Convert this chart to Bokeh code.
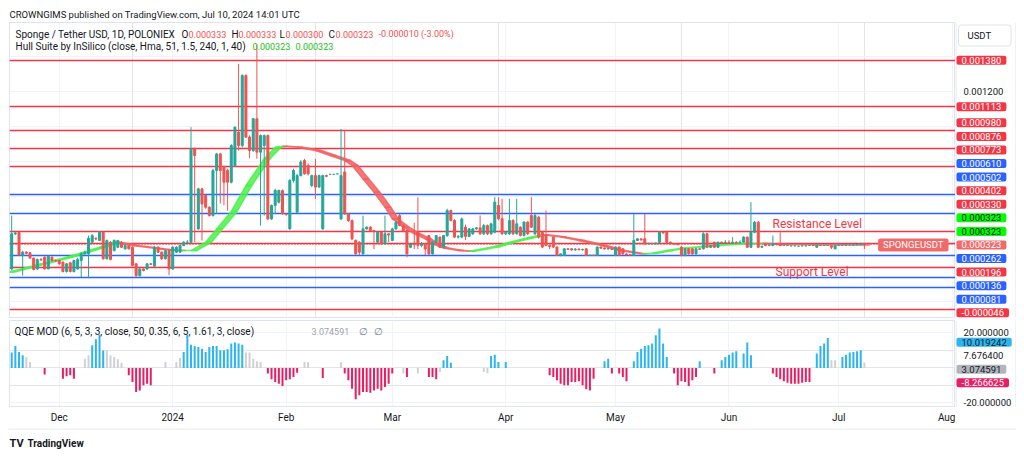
import numpy as np
from bokeh.plotting import figure
from bokeh.models import Range1d, FixedTicker, Label, Grid
from bokeh.layouts import column, row
from bokeh.embed import file_html
from bokeh.resources import INLINE

FONT = "Roboto"
TXT = "#131722"
UP, DOWN = "#26a69a", "#ef5350"
RED, BLUE = "#f23645", "#2962ff"
S = 1e-6

# ---------------- data (prices in micro-USDT) ----------------
start_day = 17   # day index counted from 1 Nov 2023
open_u = [
    186, 387, 396, 263, 282, 278, 248, 186, 240, 253,
    186, 253, 234, 234, 225, 171, 221, 171, 186, 234,
    272, 272, 339, 362, 349, 396, 244, 339, 291, 310,
    339, 301, 320, 310, 215, 148, 186, 186, 215, 202,
    310, 282, 244, 291, 186, 282, 282, 320, 339, 339,
    873, 415, 644, 606, 539, 491, 749, 844, 768, 749,
    682, 778, 968, 892, 1292, 940, 863, 1045, 854, 892,
    949, 472, 549, 568, 635, 501, 415, 692, 511, 720,
    806, 778, 663, 720, 654, 415, 720, 727, 727, 730,
    472, 740, 501, 463, 349, 339, 272, 415, 425, 406,
    339, 396, 330, 387, 349, 415, 491, 434, 406, 310,
    330, 400, 320, 330, 377, 272, 339, 368, 310, 377,
    520, 463, 368, 368, 425, 372, 387, 415, 421, 387,
    434, 387, 396, 549, 473, 387, 387, 463, 387, 425,
    377, 454, 492, 387, 482, 396, 377, 320, 368, 311,
    263, 263, 301, 301, 295, 300, 296, 301, 263, 265,
    263, 311, 305, 300, 302, 263, 311, 301, 272, 268,
    263, 349, 358, 358, 330, 332, 330, 339, 396, 396,
    339, 330, 328, 311, 263, 301, 301, 272, 301, 301,
    387, 310, 339, 310, 339, 335, 338, 333, 339, 335,
    339, 368, 310, 396, 453, 310, 330, 320, 320, 330,
    330, 320, 320, 318, 318, 316, 318, 318, 320,
    320, 310, 320, 320, 320, 320, 301, 320, 322, 322,
    322, 322, 324, 324, 333]
high_u = [
    491, 398, 400, 290, 288, 282, 250, 245, 248, 258,
    262, 258, 240, 238, 228, 220, 225, 238, 250, 282,
    290, 377, 385, 366, 402, 400, 355, 345, 355, 352,
    345, 325, 325, 315, 220, 190, 190, 220, 220, 318,
    315, 286, 296, 296, 318, 316, 325, 345, 350, 997,
    880, 650, 650, 612, 545, 760, 850, 850, 775, 760,
    900, 1000, 1359, 1300, 1300, 950, 1050, 1470, 955, 955,
    955, 555, 644, 640, 640, 505, 700, 760, 730, 810,
    816, 790, 725, 816, 725, 725, 725, 727, 727, 730,
    987, 978, 505, 470, 355, 345, 491, 430, 430, 410,
    400, 400, 491, 390, 420, 460, 500, 440, 410, 335,
    450, 596, 340, 335, 380, 345, 380, 372, 380, 530,
    525, 470, 380, 480, 440, 420, 420, 425, 492, 444,
    440, 450, 597, 597, 587, 400, 587, 470, 587, 430,
    460, 458, 597, 500, 490, 400, 520, 325, 372, 315,
    275, 305, 303, 305, 305, 303, 302, 305, 268, 268,
    315, 315, 310, 306, 306, 315, 315, 305, 275, 270,
    501, 362, 360, 501, 336, 335, 338, 400, 400, 400,
    342, 333, 331, 315, 305, 305, 305, 305, 303, 396,
    390, 325, 342, 342, 342, 352, 350, 368, 345, 350,
    372, 372, 568, 460, 460, 320, 335, 326, 377, 333,
    396, 320, 320, 318, 318, 316, 318, 318, 320,
    320, 322, 320, 320, 322, 322, 325, 322, 322, 324,
    322, 325, 326, 333, 333]
low_u = [
    177, 380, 262, 148, 270, 245, 178, 180, 232, 182,
    184, 228, 226, 210, 166, 165, 166, 166, 182, 139,
    268, 133, 335, 350, 345, 240, 240, 236, 286, 305,
    305, 296, 298, 200, 140, 142, 172, 182, 208, 198,
    278, 238, 240, 150, 180, 278, 278, 316, 332, 335,
    340, 410, 348, 530, 486, 486, 500, 560, 550, 520,
    675, 770, 863, 880, 935, 820, 855, 816, 434, 491,
    465, 466, 501, 560, 496, 490, 410, 680, 505, 715,
    725, 720, 655, 587, 650, 410, 710, 727, 727, 730,
    465, 495, 455, 350, 268, 265, 268, 410, 400, 300,
    334, 325, 325, 340, 345, 410, 430, 400, 253, 305,
    300, 300, 310, 265, 265, 268, 330, 305, 305, 370,
    458, 362, 360, 362, 352, 368, 380, 410, 380, 380,
    380, 380, 390, 465, 380, 380, 380, 380, 382, 372,
    372, 380, 420, 380, 360, 305, 315, 300, 306, 260,
    258, 260, 295, 290, 290, 292, 290, 260, 260, 260,
    260, 300, 298, 296, 294, 260, 260, 268, 262, 262,
    260, 345, 348, 325, 326, 326, 326, 335, 388, 335,
    325, 322, 320, 258, 258, 268, 268, 268, 295, 298,
    305, 305, 305, 306, 330, 330, 330, 330, 330, 330,
    335, 305, 305, 390, 305, 305, 315, 316, 316, 320,
    316, 320, 320, 318, 318, 316, 318, 318, 320,
    320, 308, 320, 320, 318, 300, 298, 318, 322, 320,
    322, 320, 322, 322, 300]
close_u = [
    387, 392, 266, 282, 275, 248, 183, 240, 238, 186,
    259, 234, 232, 215, 171, 215, 171, 234, 240, 272,
    282, 362, 377, 358, 396, 244, 349, 240, 349, 349,
    310, 320, 301, 205, 148, 186, 177, 215, 213, 310,
    282, 244, 291, 186, 310, 310, 320, 339, 339, 873,
    835, 644, 558, 539, 491, 749, 844, 749, 682, 682,
    892, 997, 892, 1292, 940, 863, 1045, 854, 949, 949,
    472, 549, 635, 635, 501, 497, 692, 749, 720, 797,
    730, 730, 720, 654, 720, 720, 716, 727, 727, 730,
    720, 501, 463, 358, 272, 282, 415, 425, 406, 400,
    396, 330, 387, 380, 415, 453, 434, 406, 272, 330,
    325, 320, 330, 300, 272, 339, 377, 310, 377, 520,
    463, 368, 372, 472, 372, 415, 415, 421, 387, 434,
    387, 444, 568, 473, 387, 396, 463, 387, 444, 377,
    454, 387, 425, 492, 368, 311, 320, 315, 311, 263,
    272, 301, 298, 295, 300, 296, 298, 263, 265, 263,
    311, 305, 300, 302, 298, 311, 263, 272, 268, 265,
    349, 358, 352, 330, 332, 330, 334, 396, 392, 339,
    330, 328, 326, 263, 301, 272, 272, 301, 298, 387,
    310, 320, 310, 339, 335, 338, 333, 339, 335, 338,
    368, 310, 396, 453, 310, 315, 320, 322, 330, 326,
    320, 320, 320, 318, 318, 316, 318, 318, 320,
    320, 320, 320, 320, 320, 310, 320, 322, 322, 322,
    322, 324, 324, 333, 323]

# Hull Suite line (read at key days)
hull_day = [16, 23, 32, 41, 45, 50, 57, 60, 63, 66, 70, 73, 77, 81, 86, 89, 91, 95, 100, 104,
            108, 110, 113, 116, 119, 121, 124, 127, 130, 132, 135, 139, 142, 149, 153, 158, 162,
            167, 172, 178, 183, 189, 192, 196, 200, 209, 216, 222, 227, 236, 250]
hull_u = [167, 205, 253, 310, 339, 320, 301, 295, 291, 291, 339, 415, 515, 663, 816, 882, 888,
          882, 863, 835, 806, 778, 701, 625, 539, 473, 425, 387, 358, 329, 305, 291, 287, 314,
          339, 364, 381, 368, 349, 320, 291, 272, 276, 291, 305, 320, 330, 331, 326, 324, 323]

# horizontal levels
level_u = [1380, 1113, 980, 876, 773, 610, 502, 402, 330, 262, 196, 136, 81, -46]
level_kind = ["r", "r", "r", "r", "r", "b", "b", "r", "r", "b", "r", "b", "b", "r"]

# QQE MOD histogram
qqe_day = [17, 18, 19, 20, 21, 22, 26, 31, 32, 33, 34, 37, 38, 39, 40, 41, 42, 43, 44, 45, 46, 47,
           49, 50, 51, 52, 53, 54, 55, 59, 62, 63, 64, 65, 66, 67, 68, 69, 70, 71, 72, 73, 74, 75,
           76, 77, 78, 79, 80, 81, 82, 83, 84, 85, 87, 88, 89, 90, 91, 92, 93, 94, 95, 97, 98, 102,
           107, 108, 109, 110, 111, 112, 113, 114, 115, 116, 117, 118, 119, 120, 121, 124, 125, 128,
           131, 132, 133, 134, 135, 136, 137, 146, 147, 148, 149, 150, 152, 164, 165, 166, 167, 168,
           169, 170, 171, 172, 173, 174, 175, 176, 179, 180, 181, 183, 184, 185, 187, 188, 189, 190,
           191, 192, 193, 194, 195, 196, 198, 199, 200, 201, 202, 203, 204, 205, 209, 211, 212, 213,
           214, 215, 217, 218, 219, 225, 226, 227, 228, 229, 230, 231, 232, 233, 234, 235, 237, 238,
           239, 240, 241, 242, 244, 245, 246, 247, 248, 249, 250]
qqe_val = [8.8, 12.6, 9.1, 7.2, 6.3, 3.4, -3.8, -6.1, -4.8, -4.2, -6.1, 5.3, 7.2, 13, 16.4, 19, 10,
           10, 7.2, 6.3, 5, 3, -4.2, -8, -13.7, -12.8, -9.9, -9, -9.9, 3.4, 3.4, 5.7, 9.1, 19, 13.3,
           12.6, 12, 11, 9.1, 12, 12.6, 12.6, 10.1, 10.1, 10.7, 13.9, 14.5, 13.9, 13.3, 8.8, 8.8,
           5.3, 3.8, 3.4, -3.2, -6.5, -8, -9, -10.3, -7, -6.5, -5.1, -2.7, 3.4, 3.4, -5.7, 3.4,
           -3.2, -7, -11.8, -17.9, -15.6, -13.7, -13.7, -14.1, -12.8, -11.8, -12.8, -10.9, -9,
           -3.2, -3.2, -5.1, -3.2, -5.1, -5.1, -6.5, -2.3, 4.4, 6.9, 3, -2.3, -3, 6.9, 7.6, 3.4,
           3.4, -4.2, -5.1, -7, -9, -9.9, -9.9, -8, -8, -7.6, -9.9, -12.2, -12.8, -6.1, 3.8, 5.3,
           -3.2, -3.2, -5.1, -7.6, 3.8, 9.1, 11, 12.6, 13, 13.9, 18.7, 22.5, 13.9, 6.3, -3.2, -9.9,
           -7.6, -8, -10.3, -7, -5.1, 3.8, -3.2, 4.4, 6.3, 7.6, 8.8, 9.5, 8.2, 14.5, 7.2, -3.2,
           -5.1, -6.5, -7.6, -8.4, -9, -9, -9, -8.4, -8, -8, 8.2, 12.6, 13.9, 17.1, 4.4, 4.4, 6.3,
           7.6, 8.8, 9.1, 9.5, 10.1, 3.07]
qqe_kind = (["b"] * 4 + ["g"] * 2 + ["p"] * 5 + ["g"] * 2 + ["b"] * 4 + ["g"] * 5 + ["p"] * 7 +
            ["g"] * 3 + ["b"] * 17 + ["g"] * 5 + ["p"] * 9 + ["g"] * 2 + ["p"] + ["g"] + ["p"] * 14 +
            ["g", "p", "g"] + ["p"] * 3 + ["g"] + ["b"] * 3 + ["g"] * 2 + ["b"] * 4 + ["p"] * 13 +
            ["b"] * 2 + ["p"] * 4 + ["b"] * 10 + ["p"] * 7 + ["b"] + ["p"] + ["b"] * 8 + ["p"] * 11 +
            ["b"] * 4 + ["g"] * 2 + ["b"] * 6 + ["g"])

month_days = [30, 61, 92, 121, 152, 182, 213, 243, 274]
month_labels = ["Dec", "2024", "Feb", "Mar", "Apr", "May", "Jun", "Jul", "Aug"]

# right-axis tags (values, kind)
price_ticks = [0.0012]
tag_u = [1380, 1113, 980, 876, 773, 610, 502, 402, 330, 323, 323, 323, 262, 196, 136, 81, -46]
tag_kind = ["r", "r", "r", "r", "r", "b", "b", "r", "r", "g", "g", "s", "b", "r", "b", "b", "r"]
qqe_ticks = [20, -20]
qqe_tag_vals = [10.019242, 7.676400, 3.074591, -8.266625]
qqe_tag_kind = ["q", "plain", "grey", "pink"]

# ---------------- geometry (page pixels) ----------------
X0, X1 = 16.4, 274.9
Y0, Y1 = -97.5e-6, 1595.6e-6
Q0, Q1 = -22.0, 27.1
FL, FR = 9, 955
MT, MB = 22, 318
QT, QB = 320, 406
AXW = 1016 - FR


def mx(px):
    return X0 + (px - FL) * (X1 - X0) / (FR - FL)


def my(py):
    return Y1 - (py - MT) * (Y1 - Y0) / (MB - MT)


def qy(py):
    return Q1 - (py - QT) * (Q1 - Q0) / (QB - QT)


def main_px(v):
    return MT + (Y1 - v) * (MB - MT) / (Y1 - Y0)


def qqe_px(v):
    return QT + (Q1 - v) * (QB - QT) / (Q1 - Q0)


def stack_tags(ideal, step, lo, hi):
    groups = [[i] for i in range(len(ideal))]

    def start(g):
        s = sum(ideal[i] - k * step for k, i in enumerate(g)) / len(g)
        return min(max(s, lo), hi - (len(g) - 1) * step)
    merged = True
    while merged:
        merged = False
        for j in range(len(groups) - 1):
            a, b = groups[j], groups[j + 1]
            if start(b) - (start(a) + (len(a) - 1) * step) < step - 1e-6:
                groups[j] = a + b
                del groups[j + 1]
                merged = True
                break
    pos = [0.0] * len(ideal)
    for g in groups:
        s = start(g)
        for k, i in enumerate(g):
            pos[i] = s + k * step
    return pos


PAD = dict(left=5, right=5, top=1, bottom=1)
TAGF = "9.5px"
LEGF = "10px"
VALF = "9px"


def txt(x, y, t, color=TXT, size="9px", align="left", **kw):
    return Label(x=x, y=y, text=t, text_font=FONT, text_font_size=size, text_color=color,
                 text_align=align, text_baseline="middle", **kw)


def axis_fig(height, top, bottom, y_range):
    f = figure(width=AXW, height=height, x_range=Range1d(0, AXW), y_range=y_range,
               output_backend="svg", toolbar_location=None, x_axis_location=None, y_axis_location=None,
               min_border_left=0, min_border_right=0, min_border_top=top, min_border_bottom=bottom,
               background_fill_color="white", border_fill_color="white", outline_line_color=None)
    f.grid.visible = False
    return f


# ---------------- main price pane ----------------
days = np.arange(start_day, start_day + len(close_u))
o = np.array(open_u) * S
h = np.array(high_u) * S
lo_ = np.array(low_u) * S
c = np.array(close_u) * S
col = [UP if cc >= oo else DOWN for oo, cc in zip(o, c)]

p = figure(width=FR, height=MB, x_range=Range1d(X0, X1), y_range=Range1d(Y0, Y1),
           output_backend="svg", toolbar_location=None, x_axis_location=None, y_axis_location=None,
           min_border_left=FL, min_border_right=0, min_border_top=MT, min_border_bottom=0,
           title="CROWNGIMS published on TradingView.com, Jul 10, 2024 14:01 UTC",
           background_fill_color="white", border_fill_color="white", outline_line_color="#e0e3eb")
p.title.text_font = FONT
p.title.text_font_size = "9.5px"
p.title.text_font_style = "normal"
p.title.text_color = TXT
p.title.standoff = 6
p.title.align = "left"

p.add_layout(Grid(dimension=0, ticker=FixedTicker(ticks=month_days), grid_line_color="#f0f3fa"))
p.add_layout(Grid(dimension=1, ticker=FixedTicker(ticks=[k * 0.0002 for k in range(8)]),
                  grid_line_color="#f0f3fa"))

p.hspan(y=[v * S for v in level_u], line_width=1.7,
        line_color=[RED if k == "r" else BLUE for k in level_kind])
p.hspan(y=[c[-1]], line_color=DOWN, line_width=1, line_dash="1 2")

# Hull band
hx = np.array(hull_day, dtype=float)
hv = np.array(hull_u) * S
shift = 1.6
xs, ys, hcol = [], [], []
for i in range(len(hx) - 1):
    xs.append([hx[i], hx[i + 1], hx[i + 1] + shift, hx[i] + shift])
    ys.append([hv[i], hv[i + 1], hv[i + 1], hv[i]])
    hcol.append("#4cf04c" if hv[i + 1] >= hv[i] else "#f26060")
p.patches(xs, ys, fill_color=hcol, fill_alpha=0.85, line_color=hcol, line_alpha=0.85, line_width=1.5)

# candles
p.segment(x0=days, y0=lo_, x1=days, y1=h, line_color=col, line_width=1)
p.vbar(x=days, top=np.maximum(o, c), bottom=np.minimum(o, c), width=0.55,
       fill_color=col, line_color=col, line_width=1)

p.add_layout(txt(mx(772), my(223), "Resistance Level", RED, "12px"))
p.add_layout(txt(mx(775), my(271), "Support Level", RED, "12px"))

chg = close_u[-1] - close_u[-2]
leg1 = [("Sponge / Tether USD, 1D, POLONIEX", 15, TXT, LEGF), ("O", 181, TXT, LEGF),
        (f"{open_u[-1] * S:.6f}", 188, DOWN, VALF), ("H", 231, TXT, LEGF),
        (f"{high_u[-1] * S:.6f}", 238, DOWN, VALF), ("L", 279, TXT, LEGF),
        (f"{low_u[-1] * S:.6f}", 285, DOWN, VALF), ("C", 328, TXT, LEGF),
        (f"{close_u[-1] * S:.6f}", 335, DOWN, VALF),
        (f"{chg * S:.6f} ({chg / close_u[-2] * 100:.2f}%)", 378, DOWN, VALF)]
for t, px, cl, fs in leg1:
    p.add_layout(txt(mx(px), my(33.5), t, cl, fs))
leg2 = [("Hull Suite by InSilico (close, Hma, 51, 1.5, 240, 1, 40)", 15, TXT, LEGF),
        (f"{hull_u[-1] * S:.6f}", 252, "#22c122", VALF), (f"{hull_u[-1] * S:.6f}", 295, "#22c122", VALF)]
for t, px, cl, fs in leg2:
    p.add_layout(txt(mx(px), my(46), t, cl, fs))

p.add_layout(txt(mx(948), c[-1], "SPONGEUSDT", "white", TAGF, align="right",
                 background_fill_color="#f06a6a", padding=PAD, border_radius=2))

# ---------------- main price scale (right) ----------------
pax = axis_fig(MB, MT, 0, p.y_range)
for v in price_ticks:
    pax.add_layout(txt(8, v, f"{v:.6f}", size=TAGF))
TAG_STYLE = {"r": (RED, "white"), "b": (BLUE, "white"), "g": ("#00ff00", TXT), "s": ("#f06a6a", "white")}
tag_pos = stack_tags([main_px(v * S) for v in tag_u], 13.57, MT + 7, 312.3)
for v, k, py in zip(tag_u, tag_kind, tag_pos):
    bg, fg = TAG_STYLE[k]
    pax.add_layout(txt(1, my(py), f"{v * S:.6f}", fg, TAGF, background_fill_color=bg, padding=PAD,
                       border_radius=2))
pax.add_layout(txt(3, my(35), "USDT", size=TAGF, background_fill_color="white",
                   border_line_color="#e0e3eb",
                   padding=dict(left=9, right=20, top=5, bottom=5), border_radius=3))
pax.segment(x0=[0.5], y0=[Y0], x1=[0.5], y1=[Y1], line_color="#e0e3eb", line_width=1)
pax.segment(x0=[AXW - 0.5], y0=[Y0], x1=[AXW - 0.5], y1=[Y1], line_color="#e0e3eb", line_width=1)

# ---------------- QQE pane ----------------
p2 = figure(width=FR, height=428 - MB, x_range=p.x_range, y_range=Range1d(Q0, Q1),
            output_backend="svg", toolbar_location=None, y_axis_location=None,
            min_border_left=FL, min_border_right=0, min_border_top=QT - MB, min_border_bottom=428 - QB,
            background_fill_color="white", border_fill_color="white", outline_line_color="#e0e3eb")
QCOL = {"b": "#2cb5ef", "g": "#cfd1d6", "p": "#e91e63"}
p2.vbar(x=qqe_day, top=qqe_val, bottom=0, width=0.55, fill_color=[QCOL[k] for k in qqe_kind],
        line_color=None)

p2.xgrid.ticker = FixedTicker(ticks=month_days)
p2.xgrid.grid_line_color = "#f0f3fa"
p2.add_layout(Grid(dimension=1, ticker=FixedTicker(ticks=qqe_ticks), grid_line_color="#f0f3fa"))

xa = p2.xaxis[0]
xa.ticker = FixedTicker(ticks=month_days)
xa.major_label_overrides = {d: l for d, l in zip(month_days, month_labels)}
xa.axis_line_color = "#e0e3eb"
xa.major_tick_line_color = None
xa.major_tick_out = 0
xa.major_tick_in = 0
xa.minor_tick_line_color = None
xa.minor_tick_out = 0
xa.major_label_text_font = FONT
xa.major_label_text_font_size = "10px"
xa.major_label_text_color = TXT
xa.major_label_standoff = 5

qleg = [("QQE MOD (6, 5, 3, 3, close, 50, 0.35, 6, 5, 1.61, 3, close)", 14, TXT, LEGF),
        (f"{qqe_tag_vals[2]:.6f}", 311, "#a0a3ab", VALF), ("\u2205", 358, "#787b86", LEGF),
        ("\u2205", 373, "#787b86", LEGF)]
for t, px, cl, fs in qleg:
    p2.add_layout(txt(mx(px), qy(331), t, cl, fs))

# QQE scale (right)
p2ax = axis_fig(428 - MB, QT - MB, 428 - QB, p2.y_range)
for v in qqe_ticks:
    p2ax.add_layout(txt(8, v, f"{v:.6f}", size=TAGF))
QTAG = {"q": ("#2cb5ef", TXT), "plain": (None, TXT), "grey": ("#b2b5be", TXT), "pink": ("#e91e63", "white")}
qpos = stack_tags([qqe_px(v) for v in qqe_tag_vals], 13.57, QT + 7, QB - 7)
for v, k, py in zip(qqe_tag_vals, qqe_tag_kind, qpos):
    bg, fg = QTAG[k]
    if bg:
        p2ax.add_layout(txt(1, qy(py), f"{v:.6f}", fg, TAGF, background_fill_color=bg, padding=PAD,
                            border_radius=2))
    else:
        p2ax.add_layout(txt(8, qy(py), f"{v:.6f}", fg, TAGF))
p2ax.segment(x0=[0.5], y0=[Q0], x1=[0.5], y1=[Q1], line_color="#e0e3eb", line_width=1)
p2ax.segment(x0=[AXW - 0.5], y0=[Q0], x1=[AXW - 0.5], y1=[Q1], line_color="#e0e3eb", line_width=1)

# ---------------- footer ----------------
pb = figure(width=1016, height=22, x_range=Range1d(0, 1016), y_range=Range1d(0, 22),
            output_backend="svg", toolbar_location=None, x_axis_location=None, y_axis_location=None,
            min_border_left=0, min_border_right=0, min_border_top=0, min_border_bottom=0,
            background_fill_color="white", border_fill_color="white", outline_line_color=None)
pb.grid.visible = False
pb.segment(x0=[8], y0=[21.5], x1=[1016], y1=[21.5], line_color="#e0e3eb", line_width=1)
pb.add_layout(txt(9, 7, "TV", size="11px", text_font_style="bold"))
pb.add_layout(txt(27, 7, "TradingView", size="10px", text_font_style="bold"))

layout = column(row(p, pax, spacing=0), row(p2, p2ax, spacing=0), pb, spacing=0)
open("out.html", "w").write(file_html(layout, INLINE))
